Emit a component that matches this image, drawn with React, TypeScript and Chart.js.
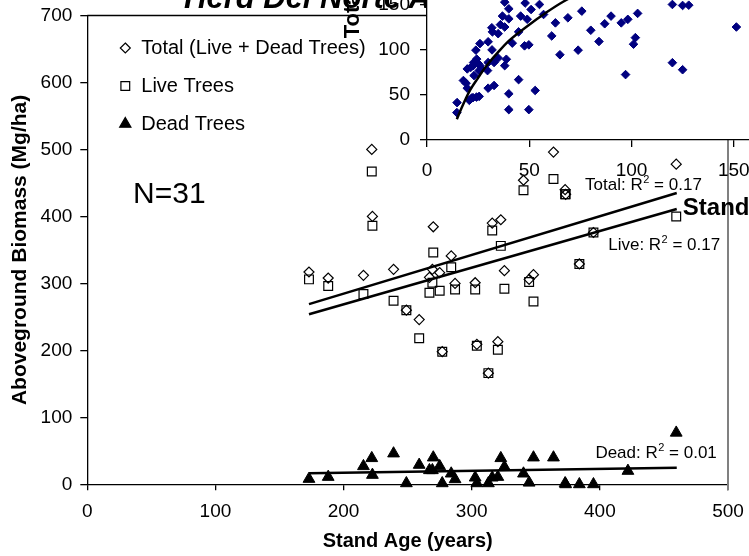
import React, { useEffect, useRef } from 'react';
import { Chart, registerables } from 'chart.js';

Chart.register(...registerables);

const FONT = 'Arial, "Liberation Sans", Helvetica, sans-serif';

// ---------- main chart data ----------
const standAge = [173, 188, 215.5, 222, 222.5, 239, 249, 259, 267, 269.3, 270, 275, 277, 284, 287, 302.7, 304, 313, 316, 320.4, 322.7, 325.5, 340.4, 344.8, 348.2, 363.8, 372.9, 373.3, 384, 395, 459.6];
const totalBiomass = [317, 308, 312, 500, 400, 321, 260, 246, 309, 321, 384.5, 316, 198, 341, 300, 301, 209, 166, 390, 213, 395, 319, 454, 306, 313, 496, 440, 433, 329, 376, 478];
const liveBiomass = [306, 296, 284, 467, 386, 274, 260, 218, 286, 301, 346, 289, 198, 324, 291, 291, 207, 166, 379, 201, 356, 292, 439, 302, 273, 456, 433, 433, 329, 376, 400];
const deadAge = [173, 188, 215.5, 222, 222.5, 239, 249, 259, 267, 269.3, 270, 275, 277, 284, 287, 302.7, 304, 313, 316, 320.4, 322.7, 325.5, 340.4, 344.8, 348.2, 363.8, 372.9, 373.3, 384, 395, 421.9, 459.6];
const deadBiomass = [8, 11, 27, 39, 14, 46, 1.5, 29, 21, 21, 40, 27, 1.5, 16, 7.5, 10, 1.5, 1.5, 10, 11, 39, 26, 16, 2.4, 40, 40, 1.5, 0, 0, 0, 20, 77];

const trendAge = [173, 460];
const totalTrend = [269, 435];
const liveTrend = [254, 411];
const deadTrend = [16.4, 24.8];

const legendLabels = ['Total (Live + Dead Trees)', 'Live Trees', 'Dead Trees'];
const r2Labels = [
  { prefix: 'Total: ', value: '0.17' },
  { prefix: 'Live: ', value: '0.17' },
  { prefix: 'Dead: ', value: '0.01' },
];
const sampleLabel = 'N=31';

// ---------- inset data ----------
const insetAge = [14.7, 14.6, 17.8, 19.1, 19.7, 20.7, 21.8, 22.5, 24.2, 25.5, 19.7, 21.4, 22.6, 22.8, 24.3, 25.9, 26.7, 23, 25.5, 25, 29.6, 23.9, 25.9, 29.9, 31.8, 29.9, 32.8, 34.8, 29.9, 32.8, 31.7, 32, 34.8, 35.9, 36.9, 38, 40, 40, 38, 38.8, 38, 41.7, 44.8, 44.8, 40, 40, 49.8, 52.9, 47.7, 49.8, 45.8, 49, 50.9, 48, 55, 57, 62.8, 61, 65, 68.9, 75.7, 80.1, 73.9, 84.1, 86.9, 90, 95, 98.2, 103, 101.9, 101, 97.1, 120, 125, 128, 120, 125, 151.3];
const insetBiomass = [41.5, 30.4, 66, 63, 57.5, 44, 46.5, 47, 47.6, 48.4, 78.9, 80.6, 82.5, 86, 89.8, 82.5, 78.9, 71.5, 77, 85, 77, 99.7, 107, 109, 100, 86, 86, 91, 57.5, 60.5, 124.6, 120, 118, 128, 137.5, 125.4, 134.5, 145.6, 153, 89.6, 82.5, 107.5, 120, 67, 51.3, 33.7, 33.7, 55, 104.5, 105.6, 137.5, 134, 144.8, 152, 150.4, 139.3, 130, 115.5, 94.6, 135.6, 143, 121.8, 99.7, 109.3, 129, 137.5, 130, 133.9, 140.5, 113.6, 106.3, 72.6, 150.4, 149.3, 149.6, 85.8, 78, 125.4];
const curveAge = [14.6, 17, 21, 25, 29, 35, 40, 50, 58, 67, 80, 100, 125, 152];
const curveBiomass = [23, 36, 55, 69, 82, 98, 110, 128, 141, 154, 168, 187, 206, 223];

const pts = (xs: number[], ys: number[]) => xs.map((x, i) => ({ x, y: ys[i] }));

function markerPath(ctx: CanvasRenderingContext2D, style: string, x: number, y: number, r: number) {
  ctx.beginPath();
  if (style === 'rectRot') {
    ctx.moveTo(x, y - r); ctx.lineTo(x + r, y); ctx.lineTo(x, y + r); ctx.lineTo(x - r, y);
  } else if (style === 'rect') {
    const s = r * Math.SQRT1_2;
    ctx.rect(x - s, y - s, 2 * s, 2 * s);
  } else {
    ctx.moveTo(x, y - r);
    ctx.lineTo(x + r * Math.sin(2 * Math.PI / 3), y - r * Math.cos(2 * Math.PI / 3));
    ctx.lineTo(x + r * Math.sin(4 * Math.PI / 3), y - r * Math.cos(4 * Math.PI / 3));
  }
  ctx.closePath();
}

function drawR2(ctx: CanvasRenderingContext2D, prefix: string, value: string, x: number, y: number, size: number) {
  ctx.textAlign = 'left';
  ctx.textBaseline = 'middle';
  ctx.font = `${size}px ${FONT}`;
  const a = prefix + 'R';
  ctx.fillText(a, x, y);
  let cx = x + ctx.measureText(a).width + 0.5;
  ctx.font = `${Math.round(size * 0.62)}px ${FONT}`;
  ctx.fillText('2', cx, y - size * 0.33);
  cx += ctx.measureText('2').width;
  ctx.font = `${size}px ${FONT}`;
  ctx.fillText(' = ' + value, cx, y);
}

const mainDecor = {
  id: 'mainDecor',
  afterDraw(chart: any) {
    const { ctx, chartArea: a, scales } = chart;
    const xs = scales.x, ys = scales.y;
    ctx.save();
    ctx.strokeStyle = '#000';
    ctx.lineWidth = 1.3;
    ctx.beginPath();
    ctx.moveTo(a.left, a.top);
    ctx.lineTo(a.right, a.top);
    ctx.stroke();
    ctx.strokeStyle = '#808080';
    ctx.lineWidth = 2;
    ctx.beginPath();
    ctx.moveTo(a.right, a.top);
    ctx.lineTo(a.right, a.bottom + 6);
    ctx.stroke();

    // legend
    const sets = chart.data.datasets.filter((d: any) => d.legendIndex !== undefined);
    sets.forEach((d: any) => {
      const i = d.legendIndex;
      const y = a.top + 32.5 + i * 38;
      const mx = a.left + 38;
      ctx.strokeStyle = '#000';
      ctx.fillStyle = '#000';
      ctx.lineWidth = 1.2;
      markerPath(ctx, d.pointStyle, mx, y, d.legendRadius);
      if (d.pointStyle === 'triangle') ctx.fill();
      ctx.stroke();
      ctx.font = `20px ${FONT}`;
      ctx.textAlign = 'left';
      ctx.textBaseline = 'middle';
      ctx.fillText(legendLabels[i], mx + 16, y);
    });

    ctx.fillStyle = '#000';
    ctx.font = `30px ${FONT}`;
    ctx.textAlign = 'left';
    ctx.textBaseline = 'middle';
    ctx.fillText(sampleLabel, xs.getPixelForValue(35.7), ys.getPixelForValue(432));

    drawR2(ctx, r2Labels[0].prefix, r2Labels[0].value, xs.getPixelForValue(388.5), ys.getPixelForValue(446), 17);
    drawR2(ctx, r2Labels[1].prefix, r2Labels[1].value, xs.getPixelForValue(406.5), ys.getPixelForValue(357), 17);
    drawR2(ctx, r2Labels[2].prefix, r2Labels[2].value, xs.getPixelForValue(396.5), ys.getPixelForValue(46), 17);
    ctx.restore();
  },
};

const insetBg = {
  id: 'insetBg',
  beforeDraw(chart: any) {
    const { ctx, chartArea: a } = chart;
    ctx.save();
    ctx.fillStyle = '#fff';
    ctx.fillRect(a.left, a.top, a.right - a.left, a.bottom - a.top);
    ctx.restore();
  },
};

export default function App() {
  const mainRef = useRef<HTMLCanvasElement>(null);
  const insetRef = useRef<HTMLCanvasElement>(null);

  useEffect(() => {
    Chart.defaults.font.family = FONT;
    Chart.defaults.color = '#000';

    const axisGrid = (tl: number) => ({
      display: true,
      drawOnChartArea: false,
      drawTicks: true,
      tickLength: tl,
      color: '#000',
      lineWidth: 1.3,
    });

    const main = new Chart(mainRef.current as HTMLCanvasElement, {
      type: 'scatter',
      data: {
        datasets: [
          { label: 'TotalTrend', type: 'line', data: pts(trendAge, totalTrend), borderColor: '#000', borderWidth: 2.5, pointRadius: 0, order: 0, clip: false } as any,
          { label: 'LiveTrend', type: 'line', data: pts(trendAge, liveTrend), borderColor: '#000', borderWidth: 2.5, pointRadius: 0, order: 0, clip: false } as any,
          { label: 'DeadTrend', type: 'line', data: pts(trendAge, deadTrend), borderColor: '#000', borderWidth: 2.5, pointRadius: 0, order: 0, clip: false } as any,
          { label: legendLabels[0], legendIndex: 0, legendRadius: 5, data: pts(standAge, totalBiomass), pointStyle: 'rectRot', pointRadius: 5, borderColor: '#000', backgroundColor: 'rgba(0,0,0,0)', borderWidth: 1.2, order: 1, clip: false } as any,
          { label: legendLabels[1], legendIndex: 1, legendRadius: 6.2, data: pts(standAge, liveBiomass), pointStyle: 'rect', pointRadius: 6.2, borderColor: '#000', backgroundColor: 'rgba(0,0,0,0)', borderWidth: 1.2, order: 1, clip: false } as any,
          { label: legendLabels[2], legendIndex: 2, legendRadius: 6.5, data: pts(deadAge, deadBiomass), pointStyle: 'triangle', pointRadius: 6.8, borderColor: '#000', backgroundColor: '#000', borderWidth: 1, order: 1, clip: false } as any,
        ],
      },
      options: {
        responsive: false,
        maintainAspectRatio: false,
        animation: false,
        events: [],
        layout: { padding: { left: 0, right: 21, top: 15.5, bottom: 0 } },
        plugins: { legend: { display: false }, tooltip: { enabled: false }, title: { display: false } },
        scales: {
          x: {
            type: 'linear',
            min: 0,
            max: 500,
            ticks: { stepSize: 100, color: '#000', font: { size: 19, family: FONT }, padding: 10, maxRotation: 0 },
            grid: axisGrid(6),
            border: { display: true, color: '#000', width: 1.3 },
            title: { display: true, text: 'Stand Age (years)', color: '#000', font: { size: 20, weight: 'bold', family: FONT }, padding: { top: 0, bottom: 3 } },
            afterFit: (s: any) => { s.height = 71.7; s.paddingLeft = 0; s.paddingRight = 0; },
          },
          y: {
            type: 'linear',
            min: 0,
            max: 700,
            ticks: { stepSize: 100, color: '#000', font: { size: 19, family: FONT }, padding: 8 },
            grid: axisGrid(7),
            border: { display: true, color: '#000', width: 1.3 },
            title: { display: true, text: 'Aboveground Biomass (Mg/ha)', color: '#000', font: { size: 21, weight: 'bold', family: FONT }, padding: { top: 8, bottom: 0 } },
            afterFit: (s: any) => { s.width = 87.3; s.paddingTop = 0; s.paddingBottom = 0; },
          },
        },
      } as any,
      plugins: [mainDecor],
    });

    const inset = new Chart(insetRef.current as HTMLCanvasElement, {
      type: 'scatter',
      data: {
        datasets: [
          { label: 'Fit', type: 'line', data: pts(curveAge, curveBiomass), borderColor: '#000', borderWidth: 2.5, pointRadius: 0, cubicInterpolationMode: 'monotone', order: 0 } as any,
          { label: 'Total', data: pts(insetAge, insetBiomass), pointStyle: 'rectRot', pointRadius: 4.3, borderColor: '#000080', backgroundColor: '#000080', borderWidth: 1, order: 1 } as any,
        ],
      },
      options: {
        responsive: false,
        maintainAspectRatio: false,
        animation: false,
        events: [],
        layout: { padding: 0 },
        plugins: { legend: { display: false }, tooltip: { enabled: false }, title: { display: false } },
        scales: {
          x: {
            type: 'linear',
            min: 0,
            max: 350,
            ticks: { stepSize: 50, color: '#000', font: { size: 19, family: FONT }, padding: 12, maxRotation: 0 },
            grid: axisGrid(7),
            border: { display: true, color: '#000', width: 1.3 },
            title: { display: true, text: 'Stand Age (years)', color: '#000', font: { size: 24, weight: 'bold', family: FONT }, padding: { top: 0, bottom: 1 } },
            afterFit: (s: any) => { s.height = 84; s.paddingLeft = 0; s.paddingRight = 0; },
          },
          y: {
            type: 'linear',
            min: 0,
            max: 650,
            ticks: { stepSize: 50, color: '#000', font: { size: 19, family: FONT }, padding: 10 },
            grid: axisGrid(7),
            border: { display: true, color: '#000', width: 1.3 },
            title: { display: true, text: 'Total Aboveground Biomass (Mg/ha)', color: '#000', font: { size: 22, weight: 'bold', family: FONT }, padding: { top: 20, bottom: 0 } },
            afterFit: (s: any) => { s.width = 107; s.paddingTop = 0; s.paddingBottom = 0; },
          },
        },
      } as any,
      plugins: [insetBg],
    });

    return () => {
      main.destroy();
      inset.destroy();
    };
  }, []);

  return (
    <div style={{ position: 'fixed', left: 0, top: 0, width: 749, height: 556, overflow: 'hidden', background: '#fff' }}>
      <canvas ref={mainRef} width={749} height={556} style={{ position: 'absolute', left: 0, top: 0, width: 749, height: 556 }} />
      <div style={{ position: 'absolute', left: 184, top: -18, fontFamily: FONT, fontStyle: 'italic', fontWeight: 'bold', fontSize: 31, lineHeight: '31px', whiteSpace: 'nowrap', color: '#000' }}>
        Herd Del Norte Aboveground Biomass
      </div>
      <canvas ref={insetRef} width={828} height={675} style={{ position: 'absolute', left: 320, top: -451, width: 828, height: 675 }} />
    </div>
  );
}
